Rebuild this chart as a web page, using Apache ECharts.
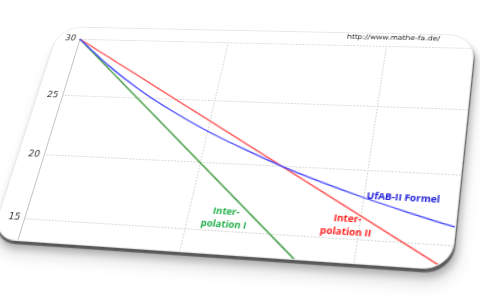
<!DOCTYPE html>
<html>
<head>
<meta charset="utf-8">
<script src="https://cdn.jsdelivr.net/npm/echarts@6/dist/echarts.min.js"></script>
<style>
  html, body { margin: 0; padding: 0; background: #ffffff; width: 480px; height: 303px; overflow: hidden; }
  #card {
    position: absolute; left: 0; top: 0;
    width: 406px; height: 226px;
    background: #ffffff;
    border-radius: 24px;
    overflow: hidden;
    border: 1px solid #e8e8e8;
    box-sizing: border-box;
    transform-origin: 0 0;
    box-shadow: 1px 3px 1px rgba(0,0,0,0.5), 3px 7px 6px rgba(0,0,0,0.22), 4px 13px 13px rgba(0,0,0,0.12);
  }
  #chart { position: absolute; left: 0; top: 0; width: 406px; height: 226px; }
</style>
</head>
<body>
<div id="card"><div id="chart"></div></div>
<script>
// ---- data ----
const blueX  = [0, 0.25, 0.5, 0.75, 1, 1.25, 1.5, 1.75, 2, 2.25, 2.5, 2.75, 3];
const blueY  = [30, 27.7, 25.7, 24.0, 22.5, 21.2, 20.0, 18.95, 18.0, 17.15, 16.35, 15.65, 15.0];
const redX   = [0, 3];
const redY   = [30, 10];
const greenX = [0, 2];
const greenY = [30, 10];
const yTicks = [15, 20, 25, 30];
const seriesNames = ['UfAB-II Formel', 'Interpolation II', 'Interpolation I'];
const labelTexts = ['UfAB-II Formel', 'Inter-\npolation II', 'Inter-\npolation I'];
const urlText = 'http://www.mathe-fa.de/';

// ---- layout (flat chart, then projected) ----
const layout = {
  grid: { left: 25, top: 13, width: 450, height: 253.33, containLabel: false, outerBoundsMode: 'none' },
  src: [[25, 13], [325, 13], [25, 203], [325, 203]],
  dst: [[79, 38], [385, 45], [23.5, 217], [356, 238]],
  labelAt: [[2.224, 18.11], [1.93, 15.87], [1.224, 15.9]],
  urlAt: [2.036, 30.69]
};

function homography(src, dst) {
  const A = [], b = [];
  for (let i = 0; i < 4; i++) {
    const [x, y] = src[i], [X, Y] = dst[i];
    A.push([x, y, 1, 0, 0, 0, -X * x, -X * y]); b.push(X);
    A.push([0, 0, 0, x, y, 1, -Y * x, -Y * y]); b.push(Y);
  }
  const n = 8;
  for (let c = 0; c < n; c++) {
    let p = c;
    for (let r = c + 1; r < n; r++) if (Math.abs(A[r][c]) > Math.abs(A[p][c])) p = r;
    [A[c], A[p]] = [A[p], A[c]]; [b[c], b[p]] = [b[p], b[c]];
    for (let r = 0; r < n; r++) {
      if (r === c) continue;
      const f = A[r][c] / A[c][c];
      for (let k = c; k < n; k++) A[r][k] -= f * A[c][k];
      b[r] -= f * b[c];
    }
  }
  return b.map((v, i) => v / A[i][i]);
}
const h = homography(layout.src, layout.dst);
document.getElementById('card').style.transform =
  'matrix3d(' + [h[0], h[3], 0, h[6], h[1], h[4], 0, h[7], 0, 0, 1, 0, h[2], h[5], 0, 1].join(',') + ')';

const zip = (xs, ys) => xs.map((x, i) => [x, ys[i]]);
const chart = echarts.init(document.getElementById('chart'), null, { renderer: 'canvas' });
const gridLine = { show: true, lineStyle: { color: '#d2d2d2', type: [1.5, 1.5], width: 1 } };
chart.setOption({
  animation: false,
  grid: layout.grid,
  xAxis: {
    type: 'value', min: 0, max: 3, interval: 1,
    axisLine: { show: false }, axisTick: { show: false }, axisLabel: { show: false },
    splitLine: gridLine
  },
  yAxis: {
    type: 'value', min: 10, max: 30, interval: 5,
    axisLine: { show: true, lineStyle: { color: '#c4c4c4', width: 1 } },
    axisTick: { show: false },
    axisLabel: {
      margin: 4, color: '#333', fontSize: 9, fontFamily: 'DejaVu Sans',
      formatter: v => (yTicks.indexOf(v) >= 0 ? String(v) : '')
    },
    splitLine: gridLine
  },
  series: [
    { name: seriesNames[0], type: 'line', data: zip(blueX, blueY), showSymbol: false, smooth: 0.2,
      lineStyle: { color: '#4a4aff', width: 1.3 }, z: 3 },
    { name: seriesNames[1], type: 'line', data: zip(redX, redY), showSymbol: false,
      lineStyle: { color: '#ff4a4a', width: 1.3 }, z: 2 },
    { name: seriesNames[2], type: 'line', data: zip(greenX, greenY), showSymbol: false,
      lineStyle: { color: '#3f9a3f', width: 1.3 }, z: 1 }
  ]
});

const colors = ['#1a1ad8', '#ff1e1e', '#22b04a'];
const els = layout.labelAt.map((p, i) => {
  const [px, py] = chart.convertToPixel({ gridIndex: 0 }, p);
  return {
    type: 'text', x: px, y: py, z: 10,
    style: { text: labelTexts[i], fill: colors[i], font: 'bold 8.5px "Open Sans"',
             align: 'center', verticalAlign: 'middle', lineHeight: 12 }
  };
});
const up = chart.convertToPixel({ gridIndex: 0 }, layout.urlAt);
els.push({ type: 'text', x: up[0], y: up[1], z: 10,
  style: { text: urlText, fill: '#222', font: '7px "DejaVu Sans"', align: 'center', verticalAlign: 'middle' } });
chart.setOption({ graphic: els });
</script>
</body>
</html>
